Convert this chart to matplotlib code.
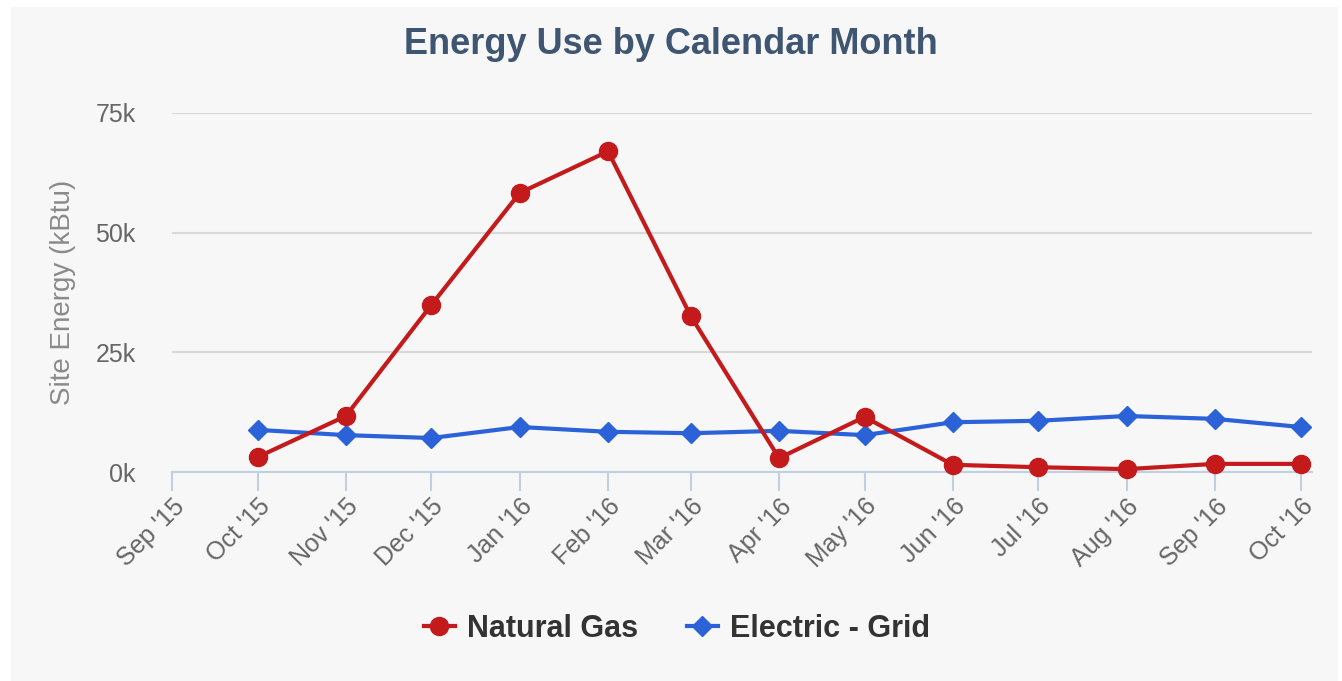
import datetime as dt
import matplotlib
matplotlib.use('Agg')
import matplotlib.pyplot as plt
import matplotlib.dates as mdates
from matplotlib.patches import Rectangle
from matplotlib.ticker import FuncFormatter, MultipleLocator

plt.rcParams['font.family'] = ['Liberation Sans', 'DejaVu Sans']

# data
months = [dt.datetime(2015, m, 1) for m in range(10, 13)] + \
         [dt.datetime(2016, m, 1) for m in range(1, 11)]
natural_gas = [3100, 11700, 34900, 58300, 67000, 32600, 2900, 11500, 1500, 1000, 600, 1700, 1700]
electric_grid = [8800, 7700, 7100, 9400, 8400, 8100, 8600, 7700, 10400, 10700, 11700, 11100, 9400]
tick_months = [dt.datetime(2015, 9, 1)] + months

RED = '#c41a1c'
BLUE = '#2b62d8'
BG = '#f7f7f7'

fig = plt.figure(figsize=(13.42, 6.81), dpi=100, facecolor='white')
fig.patches.append(Rectangle((11 / 1342, 0), 1327 / 1342, 674 / 681,
                             transform=fig.transFigure, facecolor=BG,
                             edgecolor='none', zorder=-10))

ax = fig.add_axes([172 / 1342, 209 / 681, 1140 / 1342, 359 / 681])
ax.set_facecolor('none')

# series
ax.plot(months, natural_gas, color=RED, lw=3, marker='o', ms=13,
        label='Natural Gas', zorder=4, clip_on=False)
ax.plot(months, electric_grid, color=BLUE, lw=3, marker='D', ms=10,
        label='Electric - Grid', zorder=3, clip_on=False)

# y axis
ax.set_ylim(0, 75000)
ax.yaxis.set_major_locator(MultipleLocator(25000))
ax.yaxis.set_major_formatter(FuncFormatter(lambda v, p: '%dk' % (v / 1000)))
ax.grid(axis='y', color='#d8d8d8', lw=1.5)
ax.set_axisbelow(True)
ax.tick_params(axis='y', length=0, pad=26, labelsize=18, labelcolor='#666666')
ax.set_ylabel('Site Energy (kBtu)', fontsize=20, color='#8a8a8a', labelpad=14)

# x axis
ax.set_xlim(dt.datetime(2015, 9, 1), dt.datetime(2016, 10, 5))
ax.set_xticks(tick_months)
ax.xaxis.set_major_formatter(mdates.DateFormatter("%b '%y"))
ax.tick_params(axis='x', length=14, width=1.5, color='#c0d0e0',
               labelsize=18, labelcolor='#666666', pad=2)
for lbl in ax.get_xticklabels():
    lbl.set_rotation(45)
    lbl.set_ha('right')
    lbl.set_rotation_mode('anchor')

for side in ['top', 'right', 'left']:
    ax.spines[side].set_visible(False)
ax.spines['bottom'].set_color('#c0d0e0')
ax.spines['bottom'].set_linewidth(1.5)

fig.text(0.5, 1 - 45 / 681, 'Energy Use by Calendar Month', ha='center', va='center',
         fontsize=26, fontweight='bold', color='#3e5671')

fig.legend(loc='center', bbox_to_anchor=(677 / 1342, 52 / 681), ncol=2, frameon=False,
           prop={'size': 22, 'weight': 'bold'}, labelcolor='#333333',
           handlelength=1.0, columnspacing=1.6, handletextpad=0.4)

fig.savefig('out.png', dpi=100, facecolor=fig.get_facecolor())
